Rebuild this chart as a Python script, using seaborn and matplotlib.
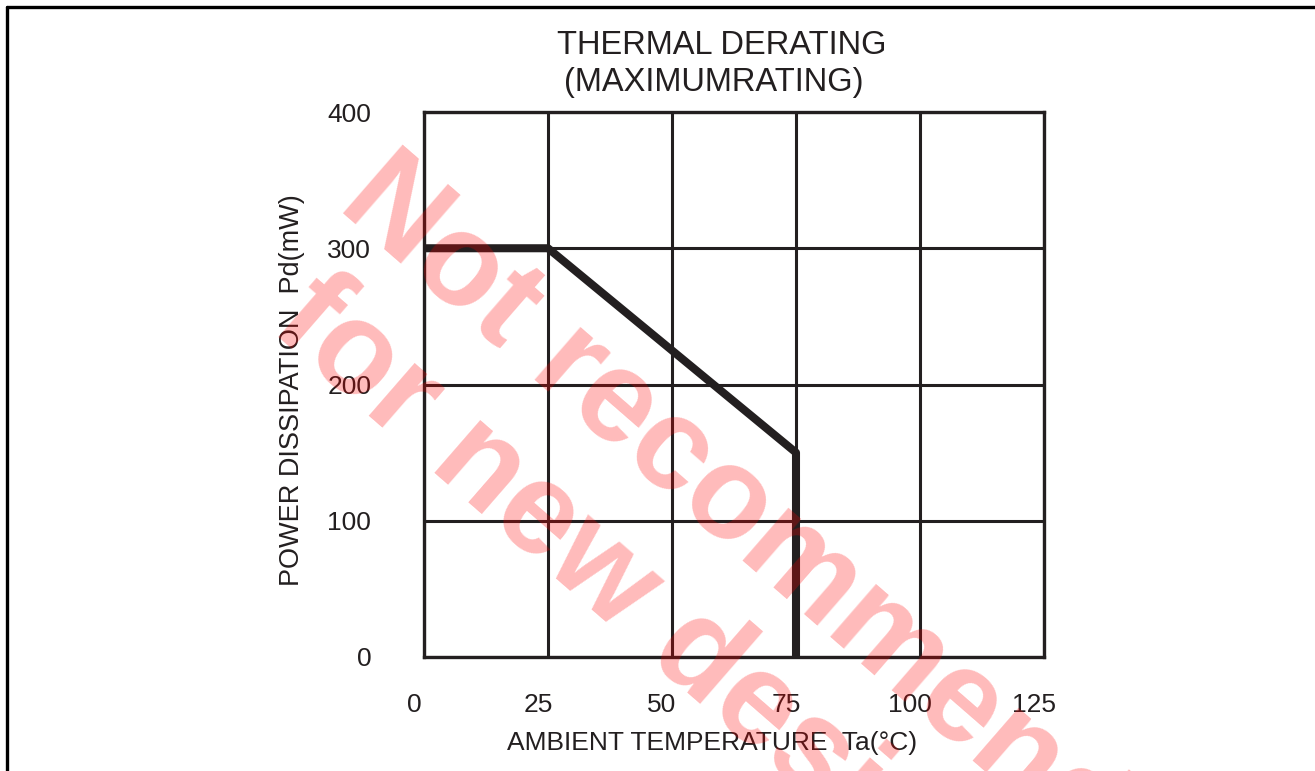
import matplotlib
matplotlib.use("Agg")
import matplotlib.pyplot as plt
from matplotlib.lines import Line2D
from matplotlib.transforms import ScaledTranslation
import pandas as pd
import seaborn as sns

# derating curve
temp_c = [0, 25, 75, 75]
power_mw = [300, 300, 150, 0]

x_ticks = [0, 25, 50, 75, 100, 125]
y_ticks = [0, 100, 200, 300, 400]

title_lines = ["THERMAL DERATING", "(MAXIMUMRATING)"]
x_label = "AMBIENT TEMPERATURE  Ta(°C)"
y_label = "POWER DISSIPATION  Pd(mW)"
watermark = ["Not recommended", "for new designs"]

W, H = 1315, 771
ink = "#231f20"

sns.set_style("white")
plt.rcParams["font.family"] = ["Liberation Sans", "DejaVu Sans"]

fig = plt.figure(figsize=(W / 100, H / 100), dpi=100)
ax = fig.add_axes([424 / W, 1 - 657 / H, 620 / W, 545 / H])

df = pd.DataFrame({"Ta": temp_c, "Pd": power_mw})
sns.lineplot(data=df, x="Ta", y="Pd", sort=False, estimator=None,
             color=ink, linewidth=5.8, ax=ax, zorder=5)

ax.set_xlim(0, 125)
ax.set_ylim(0, 400)
ax.set_xticks(x_ticks)
ax.set_yticks(y_ticks)
ax.grid(True, color=ink, linewidth=2.2)
ax.tick_params(length=0, labelsize=19, colors=ink)
ax.tick_params(axis="x", pad=26)
ax.tick_params(axis="y", pad=38)
for sp in ax.spines.values():
    sp.set_visible(True)
    sp.set_color(ink)
    sp.set_linewidth(2.4)
ax.set_xlabel("")
ax.set_ylabel("")

# tick labels in the scan sit a bit left of their grid lines
for lab in ax.get_xticklabels():
    lab.set_transform(lab.get_transform() + ScaledTranslation(-0.1, 0, fig.dpi_scale_trans))

fig.text(722 / W, 1 - 45 / H, title_lines[0], ha="center", va="center",
         fontsize=23.5, color=ink)
fig.text(714 / W, 1 - 83 / H, title_lines[1], ha="center", va="center",
         fontsize=23.5, color=ink)
fig.text(712 / W, 1 - 743 / H, x_label, ha="center", va="center",
         fontsize=19, color=ink)
fig.text(292 / W, 1 - 390 / H, y_label, ha="center", va="center",
         rotation=90, fontsize=19.5, color=ink)

# page frame (top and left edges)
fig.add_artist(Line2D([7 / W, 1], [1 - 7 / H, 1 - 7 / H], color="black", linewidth=2.4))
fig.add_artist(Line2D([7 / W, 7 / W], [1 - 7 / H, 0], color="black", linewidth=2.4))

# watermark
fig.text(336 / W, 1 - 207 / H, watermark[0], ha="left", va="baseline",
         rotation=-41, rotation_mode="anchor", fontsize=94, fontweight="bold",
         color="red", alpha=0.27, zorder=20)
fig.text(268 / W, 1 - 329 / H, watermark[1], ha="left", va="baseline",
         rotation=-41, rotation_mode="anchor", fontsize=94, fontweight="bold",
         color="red", alpha=0.27, zorder=20)

fig.savefig("out.png", dpi=100)
